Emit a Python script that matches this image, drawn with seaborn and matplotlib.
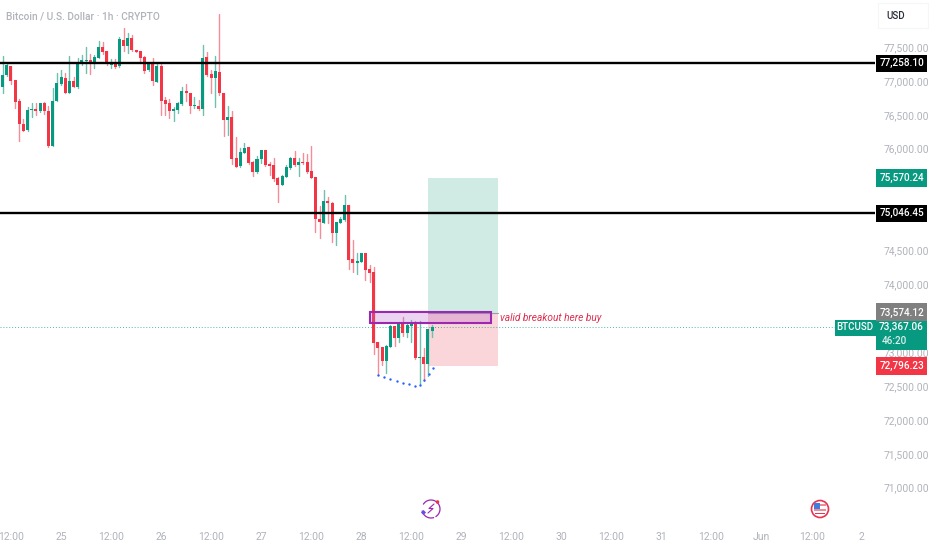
import numpy as np
import pandas as pd
import matplotlib
matplotlib.use("Agg")
import matplotlib.pyplot as plt
import seaborn as sns
from matplotlib.patches import Rectangle, Circle, Arc
from matplotlib.ticker import FuncFormatter

# hours since 25 May 00:00
hours = np.arange(-14, 90)

opens = [76915,77082,77219,77013,76703,76359,76275,76565,76590,76551,
         76669,76561,76044,76698,76954,77047,76826,76998,76905,77278,
         77293,77313,77278,77342,77505,77441,77234,77259,77219,77603,
         77514,77637,77460,77441,77347,77160,77259,76988,77224,76718,
         76669,76556,76570,76659,76851,76826,76625,76634,76590,77347,
         77101,77042,77136,76826,76423,76473,75858,75740,75942,76020,
         75804,75656,75843,75976,75774,75760,75568,75470,75588,75715,
         75868,75765,75809,75804,75666,75583,74968,74909,75224,75204,
         74752,74909,74948,75175,74373,74309,74334,74467,74226,74181,
         73149,73075,72874,73080,73385,73208,73434,73287,73385,73434,
         72908,72928,72819,73316]
highs = [77367,77259,77219,77013,76728,76438,76610,76669,76679,76679,
         76688,76629,76890,77111,77160,77121,77367,77052,77333,77382,
         77505,77396,77382,77583,77573,77441,77328,77328,77652,77775,
         77701,77682,77460,77441,77367,77269,77333,77259,77249,76767,
         76728,76620,76693,76905,76954,76826,76767,76718,77529,77426,
         77160,77367,77986,76826,76630,76561,76178,76006,76089,76020,
         75824,75892,75981,75981,75809,75858,75588,75612,75760,75883,
         75961,75858,75932,75922,76040,75583,75155,75391,75293,75219,
         74924,74988,75312,75175,74653,74467,74467,74467,74290,74260,
         73149,73080,73105,73400,73385,73449,73513,73414,73473,73464,
         73464,73055,73346,73400]
lows = [76826,77072,76954,76595,76118,76266,76266,76472,76492,76541,
        76511,76020,76044,76698,76939,76816,76816,76905,76895,77229,
        77121,77101,77185,77333,77392,77234,77190,77190,77210,77446,
        77406,77446,77431,77269,77121,77151,76934,76979,76497,76497,
        76447,76403,76521,76639,76708,76521,76595,76570,76502,77072,
        76816,76610,76792,76187,76197,75774,75725,75735,75932,75774,
        75597,75647,75784,75745,75612,75529,75219,75460,75578,75706,
        75745,75597,75774,75647,75563,74776,74683,74899,74899,74629,
        74580,74899,74939,74231,74181,74152,74329,74063,74039,72972,
        72657,72810,72687,73070,73090,73154,73237,73218,73154,72893,
        72529,72579,72647,73218]
closes = [77087,77229,77003,76693,76359,76266,76570,76590,76556,76669,
          76551,76039,76708,76964,77052,76826,77003,76915,77278,77303,
          77313,77283,77352,77505,77426,77244,77259,77200,77613,77514,
          77637,77451,77431,77333,77151,77259,76998,77219,76708,76659,
          76561,76580,76669,76851,76816,76629,76639,76580,77337,77092,
          77042,77146,76816,76423,76473,75848,75735,75951,76010,75794,
          75652,75853,75976,75765,75745,75553,75465,75597,75725,75863,
          75755,75809,75789,75656,75573,74958,74919,75224,75194,74752,
          74914,74958,75175,74358,74309,74344,74467,74216,74172,73139,
          73065,72874,73090,73385,73208,73434,73287,73395,73434,72908,
          72928,72819,73336,73367]

levels = [77258.10, 75046.45]
target = 75570.24
entry = 73574.12
stop = 72796.23
last_price = 73367.06

dot_hours = [76.1, 77.5, 79.0, 80.5, 82.0, 83.5, 85.0, 86.1, 87.1, 88.2, 89.3]
dot_prices = [72662, 72633, 72603, 72579, 72549, 72525, 72500, 72510, 72593, 72677, 72760]

x_tick_hours = [-12, 0, 12, 24, 36, 48, 60, 72, 84, 96, 108, 120, 132, 144, 156, 168, 180, 192]
x_tick_labels = ["12:00", "25", "12:00", "26", "12:00", "27", "12:00", "28", "12:00", "29",
                 "12:00", "30", "12:00", "31", "12:00", "Jun", "12:00", "2"]
# 73,500 / 75,000 / 75,500 sit fully behind the price tags in the reference
y_ticks = [71000, 71500, 72000, 72500, 73000, 74000, 74500, 76000, 76500, 77000, 77500]

GREEN = "#089981"
RED = "#f23645"
GREY = "#b0b3ba"
W, H = 932, 550

sns.set_theme(style="white")
plt.rcParams["font.family"] = ["Roboto", "DejaVu Sans"]

df = pd.DataFrame({"hour": hours, "open": opens, "high": highs, "low": lows, "close": closes})
df["up"] = df["close"] >= df["open"]
df["bottom"] = df[["open", "close"]].min(axis=1)
df["height"] = (df["close"] - df["open"]).abs()
wicks = df.melt(id_vars=["hour", "up"], value_vars=["high", "low"], value_name="price")

fig = plt.figure(figsize=(W / 100, H / 100), dpi=100)
ax = fig.add_axes([0, 35 / H, 875 / W, 515 / H])

# long / short position boxes
ax.add_patch(Rectangle((88.0, entry), 16.9, target - entry, fc="#d0ebe3", ec="none", zorder=1))
ax.add_patch(Rectangle((88.0, stop), 16.9, entry - stop, fc="#fad5d9", ec="none", zorder=1))
ax.plot([88.0, 104.9], [entry, entry], color="#9a9ea8", lw=0.8, zorder=1.5)

# wicks and bodies
sns.lineplot(data=wicks, x="hour", y="price", units="hour", estimator=None, hue="up",
             palette={True: "#6fc0ae", False: "#f58d99"}, lw=1, legend=False, ax=ax, zorder=2)
ax.bar(df["hour"], df["height"], bottom=df["bottom"], width=0.72,
       color=[GREEN if u else RED for u in df["up"]], linewidth=0, zorder=3)

# horizontal levels
for lv in levels:
    ax.axhline(lv, color="black", lw=1.7, zorder=4)
ax.axhline(last_price, color=GREEN, lw=0.7, ls=(0, (1, 2)), alpha=0.7, zorder=1.5)

# breakout zone
ax.add_patch(Rectangle((74.0, 73425), 29.2, 166, fc="#b565c8", alpha=0.28, ec="none", zorder=4))
ax.add_patch(Rectangle((74.0, 73425), 29.2, 166, fc="none", ec="#9c27b0", lw=1.5, zorder=4))
ax.text(105.3, 73510, "valid breakout here buy", color="#dc2f50", style="italic",
        fontsize=7.3, va="center", ha="left", zorder=5)

sns.scatterplot(x=dot_hours, y=dot_prices, color="#2962ff", s=3, linewidth=0, ax=ax, zorder=5)

ax.set_xlim(-14.63, 195.2)
ax.set_ylim(70597, 78193)
ax.set_xticks(x_tick_hours)
ax.set_xticklabels(x_tick_labels)
ax.set_yticks(y_ticks)
ax.yaxis.tick_right()
ax.yaxis.set_major_formatter(FuncFormatter(lambda v, p: f"{v:,.2f}"))
ax.tick_params(axis="x", length=0, pad=12, labelsize=7.5, labelcolor=GREY)
ax.tick_params(axis="y", length=0, pad=6, labelsize=7.4, labelcolor=GREY)
ax.set_xlabel("")
ax.set_ylabel("")
sns.despine(ax=ax, left=True, bottom=True, right=True, top=True)
ax.patch.set_alpha(0)

fig.text(6 / W, 1 - 16 / H, "Bitcoin / U.S. Dollar · 1h · CRYPTO", color=GREY,
         fontsize=7.3, fontweight="medium", va="center", ha="left")


# price tags on the right, sizes in pixels
def px_y(price):
    return ax.transData.transform((0, price))[1]


def tag(x0, x1, ytop, h, color):
    fig.add_artist(Rectangle((x0, ytop - h), x1 - x0, h, fc=color, ec="none",
                             transform=None, zorder=6))


def tag_text(x, y, s, color="white", size=7.2, ha="center"):
    fig.text(x / W, y / H, s, color=color, fontsize=size, fontweight="medium",
             va="center", ha=ha, zorder=7)


for price, color, h in [(levels[0], "black", 17.5), (target, GREEN, 17.5),
                        (levels[1], "black", 17.5), (entry, "#808080", 19.5), (stop, RED, 17.5)]:
    yc = px_y(price)
    tag(876, 927, yc + h / 2, h, color)
    tag_text(901.5, yc, f"{price:,.2f}")

yc = px_y(last_price)
tag(876, 927, yc + 6.5, 29.5, GREEN)
tag(835, 875.5, yc + 7.5, 16, GREEN)
tag_text(855, yc, "BTCUSD", size=7)
tag_text(901.5, yc, f"{last_price:,.2f}")
tag_text(882, yc - 14, "46:20", color="#d8f0ea", ha="left")

# USD button
fig.add_artist(Rectangle((878, H - 28), 50, 25, fc="white", ec="#f5f6f8", lw=0.8, transform=None, zorder=6))
tag_text(886, H - 16, "USD", color="#2a2e39", size=7, ha="left")

# event icons under the chart
ic_x, ic_y = 431, H - 509
fig.add_artist(Arc((ic_x, ic_y), 18, 18, theta1=-60, theta2=150, ec="#9c27b0", lw=0.9, transform=None, zorder=6))
fig.add_artist(Arc((ic_x, ic_y), 18, 18, theta1=190, theta2=290, ec="#9c27b0", lw=0.9, transform=None, zorder=6))
fig.add_artist(plt.Line2D([ic_x + 3, ic_x - 2, ic_x + 2, ic_x - 3], [ic_y + 5, ic_y + 0.5, ic_y + 0.5, ic_y - 4],
                          color="#9c27b0", lw=0.8, transform=None, zorder=7))
fig.add_artist(plt.Line2D([ic_x - 8], [ic_y - 3], marker="D", ms=2.6, mew=0, color="#6d4ae8", transform=None, zorder=7))
fig.add_artist(Circle((ic_x + 6.5, ic_y + 7), 1.8, fc="#e8344f", ec="none", transform=None, zorder=7))

fl_x, fl_y = 820, H - 509
fig.add_artist(Circle((fl_x, fl_y), 8.5, fc="white", ec="#e8344f", lw=1.2, transform=None, zorder=6))
fig.add_artist(Rectangle((fl_x - 6, fl_y), 6, 6, fc="#3d7fe0", ec="none", transform=None, zorder=7))
fig.add_artist(Rectangle((fl_x, fl_y + 3), 6, 2, fc="#f08a94", ec="none", transform=None, zorder=7))
fig.add_artist(Rectangle((fl_x - 6, fl_y - 2), 12, 2, fc="#f08a94", ec="none", transform=None, zorder=7))
fig.add_artist(Rectangle((fl_x - 5, fl_y - 5), 10, 1.5, fc="#e8344f", ec="none", transform=None, zorder=7))

fig.savefig("out.png", dpi=100)
